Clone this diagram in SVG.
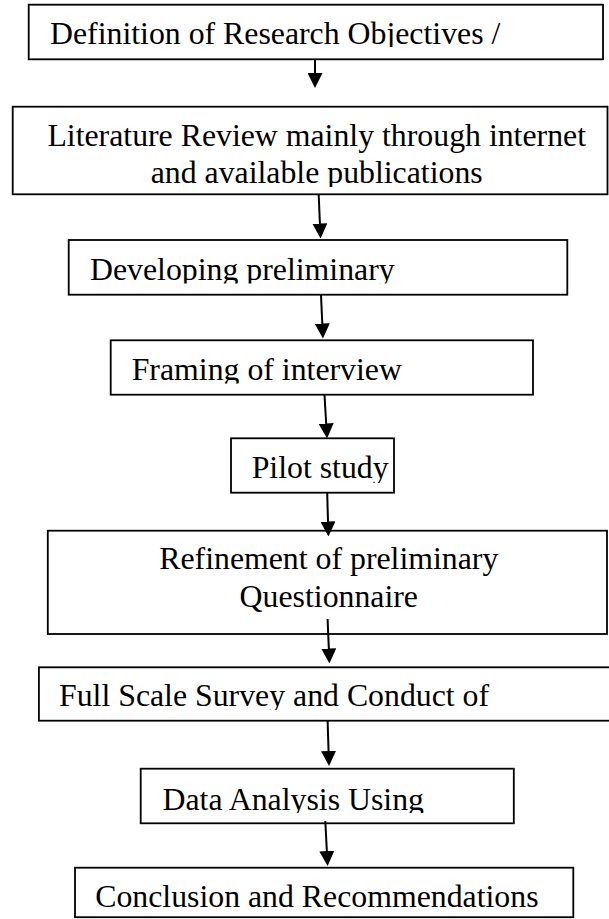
<svg xmlns="http://www.w3.org/2000/svg" width="609" height="919" viewBox="0 0 609 919">
<style>
.box{fill:#fff;stroke:#000;stroke-width:1.8}
.t{font-family:"Liberation Serif","Times New Roman",serif;font-size:31.8px;fill:#000}
.c{text-anchor:middle}
.arr{stroke:#000;stroke-width:2;fill:none;marker-end:url(#ah)}
</style>
<defs>
<marker id="ah" markerUnits="userSpaceOnUse" markerWidth="15" markerHeight="15" refX="7" refY="7.5" orient="auto" viewBox="0 0 15 15">
<path d="M0,0 L15,7.5 L0,15 z" fill="#000"/>
</marker>
<clipPath id="k1" clipPathUnits="userSpaceOnUse"><rect x="0" y="0" width="609" height="47"/></clipPath>
<clipPath id="k2" clipPathUnits="userSpaceOnUse"><rect x="0" y="150" width="609" height="37"/></clipPath>
<clipPath id="k3" clipPathUnits="userSpaceOnUse"><rect x="0" y="240" width="609" height="43.5"/></clipPath>
<clipPath id="k4" clipPathUnits="userSpaceOnUse"><rect x="0" y="340" width="609" height="43.5"/></clipPath>
<clipPath id="k5" clipPathUnits="userSpaceOnUse"><rect x="0" y="438" width="609" height="45"/></clipPath>
<clipPath id="k7" clipPathUnits="userSpaceOnUse"><rect x="0" y="667" width="609" height="43"/></clipPath>
<clipPath id="k8" clipPathUnits="userSpaceOnUse"><rect x="0" y="768" width="609" height="45"/></clipPath>
</defs>
<g id="n1"><rect class="box" x="28.7" y="4.7" width="574.3" height="54.6"/><text class="t" x="50" y="44" clip-path="url(#k1)">Definition of Research Objectives /</text></g>
<g id="n2"><rect class="box" x="12.7" y="106.7" width="594.8" height="87.6"/><text class="t c" x="316.7" y="145.7">Literature Review mainly through internet</text><text class="t c" x="316.7" y="182.7" clip-path="url(#k2)">and available publications</text></g>
<g id="n3"><rect class="box" x="68.7" y="240" width="498.6" height="54.7"/><text class="t" x="90" y="280" clip-path="url(#k3)">Developing preliminary</text></g>
<g id="n4"><rect class="box" x="110.7" y="340.3" width="422.3" height="54.4"/><text class="t" x="131.7" y="380" clip-path="url(#k4)">Framing of interview</text></g>
<g id="n5"><rect class="box" x="231" y="438.3" width="163" height="54.4"/><text class="t" x="251.7" y="478.3" clip-path="url(#k5)">Pilot study</text></g>
<g id="n6"><rect class="box" x="47.8" y="530.7" width="559.2" height="103.3"/><text class="t c" x="328.8" y="569">Refinement of preliminary</text><text class="t c" x="328.8" y="606.7">Questionnaire</text></g>
<g id="n7"><rect class="box" x="38.9" y="667.3" width="580" height="53.4"/><text class="t" x="59" y="706" clip-path="url(#k7)">Full Scale Survey and Conduct of</text></g>
<g id="n8"><rect class="box" x="140.7" y="768.7" width="373.1" height="54.6"/><text class="t" x="162.5" y="810" clip-path="url(#k8)">Data Analysis Using</text></g>
<g id="n9"><rect class="box" x="75" y="867.7" width="498.3" height="49.5"/><text class="t" x="95.2" y="906.7">Conclusion and Recommendations</text></g>
<g id="connectors">
<line class="arr" x1="315" y1="60" x2="315" y2="80"/>
<line class="arr" x1="318.7" y1="195" x2="320.2" y2="230.5"/>
<line class="arr" x1="321" y1="295" x2="322.6" y2="330.5"/>
<line class="arr" x1="324.5" y1="395" x2="326.6" y2="430.5"/>
<line class="arr" x1="327.2" y1="493" x2="328.2" y2="528.5"/>
<line class="arr" x1="327.6" y1="619" x2="329.1" y2="655.5"/>
<line class="arr" x1="327.6" y1="721" x2="328.8" y2="758"/>
<line class="arr" x1="325.3" y1="821" x2="327.2" y2="858"/>
</g>
</svg>
